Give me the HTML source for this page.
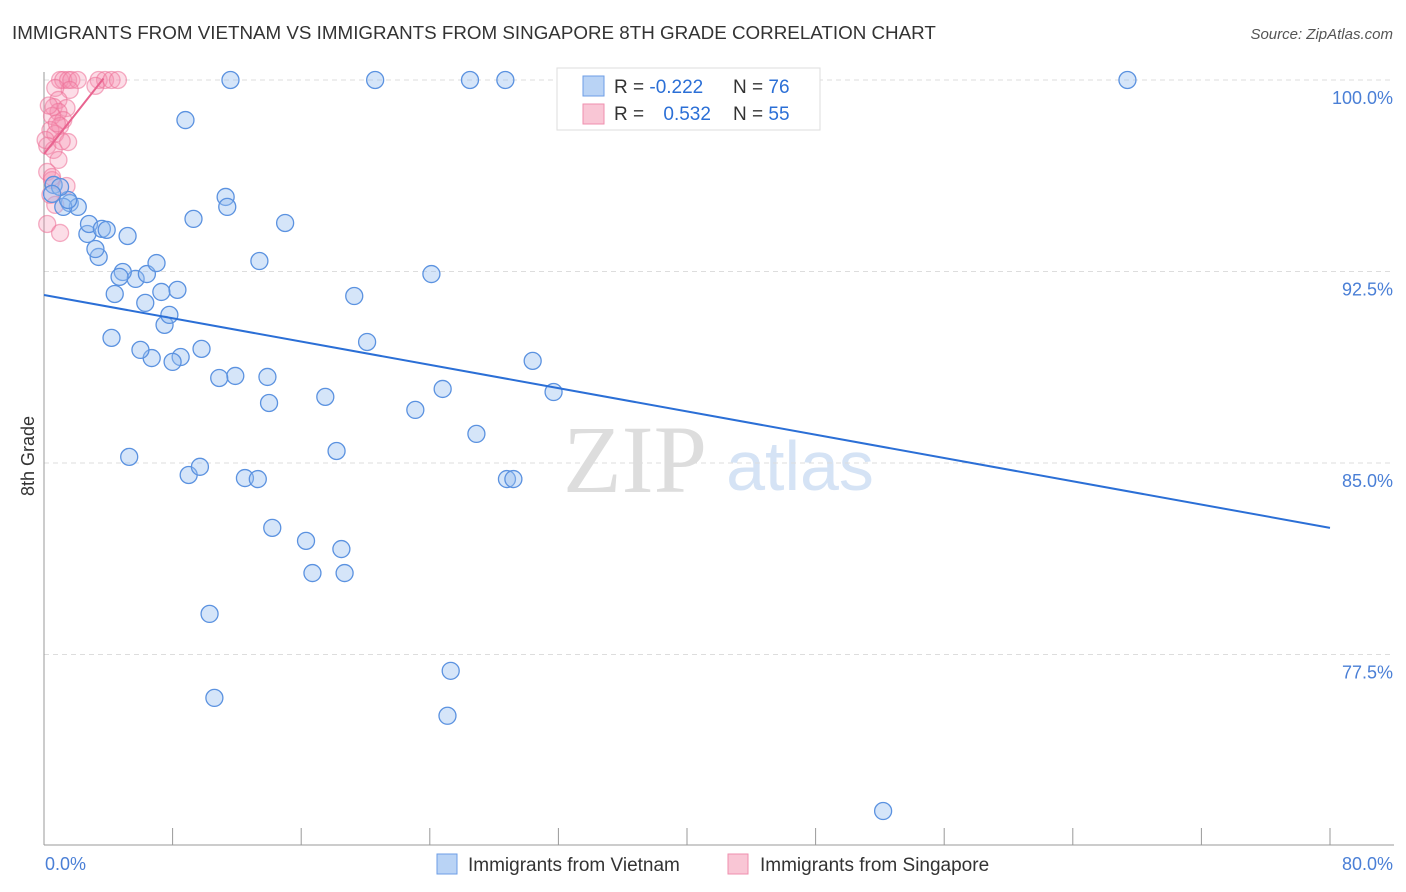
<!DOCTYPE html>
<html><head><meta charset="utf-8"><style>
body{margin:0;background:#fff;font-family:"Liberation Sans",sans-serif;}
svg{display:block}
</style></head><body>
<svg id="c" width="1406" height="892">
<text x="12" y="39" font-size="18.8" fill="#333">IMMIGRANTS FROM VIETNAM VS IMMIGRANTS FROM SINGAPORE 8TH GRADE CORRELATION CHART</text>
<text x="1393" y="39" font-size="15" fill="#555" font-style="italic" text-anchor="end">Source: ZipAtlas.com</text>
<text x="34" y="456" font-size="18" fill="#333" transform="rotate(-90 34 456)" text-anchor="middle">8th Grade</text>
<text x="635" y="492" font-size="96" fill="#ddd" text-anchor="middle" font-family="Liberation Serif,serif">ZIP</text>
<text x="800" y="490" font-size="70" fill="#d5e3f5" text-anchor="middle">atlas</text>
<g id="grid"></g><g id="pts"></g><g id="lines"></g>
<g>
<rect x="557" y="68" width="263" height="62" fill="#fff" stroke="#ddd"/>
<rect x="583" y="76" width="21" height="20" fill="#b9d3f5" stroke="#6d9ee6"/>
<rect x="583" y="104" width="21" height="20" fill="#f9c6d5" stroke="#ef8fae"/>
<text x="614" y="93" font-size="19" fill="#333">R = <tspan fill="#2b6fd6">-0.222</tspan></text>
<text x="733" y="93" font-size="19" fill="#333">N = <tspan fill="#2b6fd6">76</tspan></text>
<text x="614" y="120" font-size="19" fill="#333">R = <tspan fill="#2b6fd6" dx="14">0.532</tspan></text>
<text x="733" y="120" font-size="19" fill="#333">N = <tspan fill="#2b6fd6">55</tspan></text>
</g>
<g>
<rect x="437" y="854" width="20" height="20" fill="#b9d3f5" stroke="#6d9ee6"/>
<text x="468" y="871" font-size="19" fill="#333">Immigrants from Vietnam</text>
<rect x="728" y="854" width="20" height="20" fill="#f9c6d5" stroke="#ef8fae"/>
<text x="760" y="871" font-size="19" fill="#333">Immigrants from Singapore</text>
</g>
</svg>
<script>
const yTicks=[100,92.5,85,77.5];
const yTickLabels=["100.0%","92.5%","85.0%","77.5%"];
const blueX=[11.6,20.6,26.5,28.7,67.4,8.8,11.3,9.3,11.4,15.0,13.4,24.1,19.3,20.1,30.4,31.7,24.8,23.1,26.9,17.5,18.2,14.0,13.9,11.9,10.9,9.8,8.5,8.0,6.7,6.0,4.2,7.5,7.8,8.3,6.3,7.3,4.4,5.7,6.4,4.9,4.7,7.0,3.4,3.2,2.7,2.8,3.6,3.9,5.2,1.6,2.1,1.2,1.5,0.6,1.0,0.5,5.3,9.0,9.7,12.5,13.3,28.8,29.2,14.2,16.3,18.5,16.7,18.7,10.3,25.3,10.6,25.1,52.2];
const blueY=[100,100,100,100,100,98.43,95.42,94.56,95.03,94.40,92.91,92.40,91.54,89.74,89.0,87.78,87.90,87.08,86.14,87.59,85.47,87.35,88.37,88.41,88.33,89.47,89.15,88.96,89.11,89.43,89.90,90.41,90.80,91.78,91.27,91.70,91.62,92.21,92.40,92.48,92.29,92.83,93.07,93.38,93.97,94.36,94.17,94.13,93.89,95.18,95.03,95.03,95.30,95.89,95.81,95.54,85.24,84.53,84.85,84.41,84.37,84.37,84.37,82.46,81.95,81.63,80.69,80.69,79.09,76.86,75.80,75.10,71.37];
const pinkX=[1.0,1.2,1.5,1.7,2.1,3.4,3.8,4.2,4.6,3.2,1.6,0.7,0.9,0.6,1.4,0.9,0.5,1.2,1.0,0.4,0.7,1.5,0.2,0.6,0.9,0.2,0.5,1.4,0.4,0.7,0.2,1.0,0.1,0.3,0.8,1.1,0.5];
const pinkY=[100,100,100,100,100,100,100,100,100,99.77,99.61,99.69,99.22,98.94,98.90,98.75,98.59,98.43,98.20,98.04,97.89,97.57,97.42,97.26,96.87,96.40,96.08,95.85,95.50,95.11,94.36,94.01,97.65,99.0,98.3,97.6,96.2];
const blueLine=[91.58,-0.114];
const pinkLine=[97.1,0.8];
const X=v=>44+v/80*1286, Y=v=>80+(100-v)/7.5*191.5;
const NS="http://www.w3.org/2000/svg";
function mk(t,a,p){const e=document.createElementNS(NS,t);for(const k in a)e.setAttribute(k,a[k]);p.appendChild(e);return e;}
const g=document.getElementById('grid');
yTicks.forEach((t,i)=>{
 const l=mk('line',{x1:44,x2:1394,y1:Y(t),y2:Y(t),stroke:'#ddd','stroke-dasharray':'5,4'},g);
 
 
 const tx=mk('text',{x:1393,y:Y(t)+24,'font-size':18,fill:'#4a7fd6','text-anchor':'end'},g);
 tx.textContent=yTickLabels[i];
 
 
});
const ax=mk('line',{x1:44,x2:44,y1:72,y2:845,stroke:'#999'},g);


const bx=mk('line',{x1:44,x2:1394,y1:845,y2:845,stroke:'#999'},g);


for(let i=0;i<=10;i++){
 const t=mk('line',{x1:X(i*8),x2:X(i*8),y1:828,y2:845,stroke:'#999'},g);
 
 
}
[[0,"0.0%",'start',45],[80,"80.0%",'end',1393]].forEach(d=>{
 const t=mk('text',{x:d[3],y:870,'font-size':18,fill:'#4a7fd6','text-anchor':d[2]},g);
 t.textContent=d[1];
 
 
});
const p=document.getElementById('pts');
pinkX.forEach((x,i)=>{
 const c=mk('circle',{cx:X(x),cy:Y(pinkY[i]),r:8.5,fill:'rgba(244,143,177,0.3)',stroke:'rgba(236,110,150,0.55)','stroke-width':1.3},p);
 
 
});
blueX.forEach((x,i)=>{
 const c=mk('circle',{cx:X(x),cy:Y(blueY[i]),r:8.5,fill:'rgba(150,190,240,0.4)',stroke:'#5b92e0','stroke-width':1.3},p);
 
 
});
const L=document.getElementById('lines');
const bl=mk('line',{x1:X(0),y1:Y(blueLine[0]),x2:X(80),y2:Y(blueLine[0]+blueLine[1]*80),stroke:'#2b6fd6','stroke-width':2},L);


const pl=mk('line',{x1:X(0),y1:Y(pinkLine[0]),x2:X(3.7),y2:Y(pinkLine[0]+pinkLine[1]*3.7),stroke:'#e8638f','stroke-width':2},L);


</script>
</body></html>
